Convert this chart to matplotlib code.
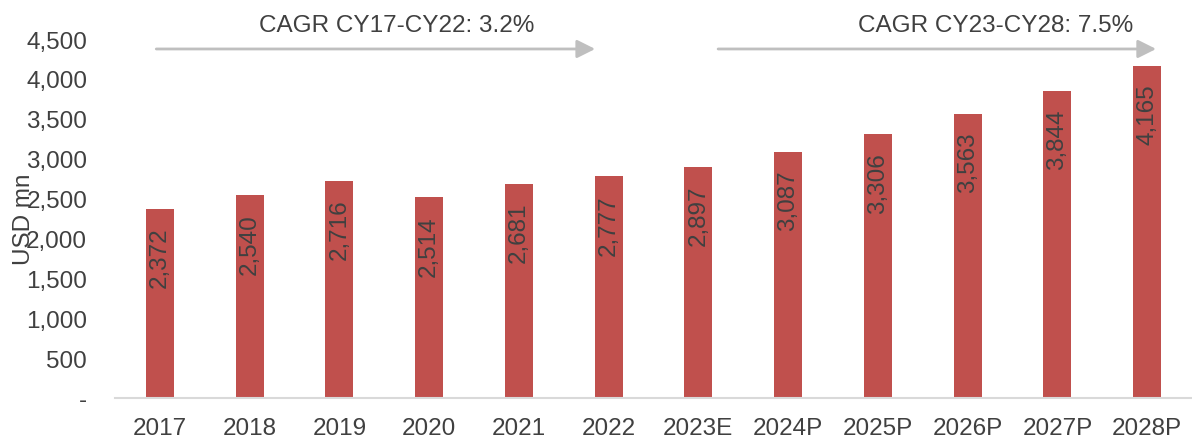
import matplotlib
matplotlib.use("Agg")
import matplotlib.pyplot as plt
import numpy as np

plt.rcParams['font.family'] = ['Liberation Sans', 'DejaVu Sans']

years = ["2017", "2018", "2019", "2020", "2021", "2022", "2023E",
         "2024P", "2025P", "2026P", "2027P", "2028P"]
values = [2372, 2540, 2716, 2514, 2681, 2777, 2897, 3087, 3306, 3563, 3844, 4165]
y_ticks = [0, 500, 1000, 1500, 2000, 2500, 3000, 3500, 4000, 4500]
cagr_labels = ["CAGR CY17-CY22: 3.2%", "CAGR CY23-CY28: 7.5%"]

text_col = "#404040"
bar_col = "#C0504D"
arrow_col = "#BFBFBF"
fs = 17.5

fig = plt.figure(figsize=(11.92, 4.39), dpi=100)
ax = fig.add_axes([115 / 1192, 40 / 439, 1077 / 1192, 359 / 439])

x = np.arange(len(years))
ax.bar(x, values, width=0.31, color=bar_col, zorder=2)

for xi, v in zip(x, values):
    ax.text(xi, v - 220, f"{v:,}", rotation=90, ha="center", va="top",
            fontsize=fs, color=text_col)

ax.set_xlim(-0.5, 11.5)
ax.set_ylim(0, 4500)
ax.set_xticks(x)
ax.set_xticklabels(years, fontsize=fs, color=text_col)
ax.set_yticks(y_ticks)
ax.set_yticklabels(["-" if t == 0 else f"{t:,}" for t in y_ticks],
                   fontsize=fs, color=text_col)
ax.tick_params(axis="both", length=0)
ax.tick_params(axis="x", pad=14)
ax.tick_params(axis="y", pad=20)
for s in ["top", "right", "left"]:
    ax.spines[s].set_visible(False)
ax.spines["bottom"].set_color("#D9D9D9")
ax.spines["bottom"].set_linewidth(1.5)

ax.set_ylabel("USD mn", fontsize=fs, color=text_col)
ax.yaxis.set_label_coords(-0.074, 0.5)

# CAGR arrows
arrow_y = 4375
arrows = [(-0.04, 4.85), (6.22, 11.1)]
text_x = [2.64, 9.31]
for (x0, x1), tx, label in zip(arrows, text_x, cagr_labels):
    ax.annotate("", xy=(x1, arrow_y), xytext=(x0, arrow_y),
                arrowprops=dict(arrowstyle="-|>,head_length=1.1,head_width=0.55",
                                color=arrow_col, lw=2, shrinkA=0, shrinkB=0),
                annotation_clip=False)
    ax.text(tx, arrow_y + 160, label, ha="center", va="bottom",
            fontsize=fs, color=text_col, clip_on=False)

fig.savefig("out.png", dpi=100)
